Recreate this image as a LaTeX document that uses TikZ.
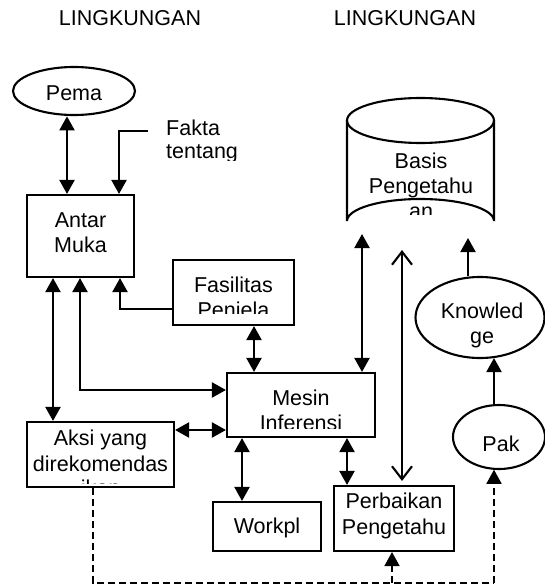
\documentclass[tikz,border=0pt]{standalone}
\usepackage{fontspec}
\setmainfont{Liberation Sans}
\usetikzlibrary{arrows.meta,calc,shapes.geometric}
\begin{document}
\begin{tikzpicture}[x=1pt,y=-1pt,
  box/.style={draw,line width=2.1pt,rectangle,inner sep=0pt},
  oval/.style={draw,line width=2.1pt,ellipse,inner sep=0pt},
  lbl/.style={font=\fontsize{21.5}{25}\selectfont,anchor=base,inner sep=0pt},
  lbll/.style={font=\fontsize{21.5}{25}\selectfont,anchor=base west,inner sep=0pt},
  ar/.style={line width=2.1pt,-{Triangle[length=14pt,width=15pt]}},
  dbl/.style={line width=2.1pt,{Triangle[length=14pt,width=15pt]}-{Triangle[length=14pt,width=15pt]}},
  openab/.style={line width=2.1pt,{Straight Barb[length=13pt,width=20pt]}-{Straight Barb[length=13pt,width=20pt]}},
  dsh/.style={line width=1.7pt,dash pattern=on 7pt off 4pt},
  dshar/.style={line width=1.7pt,dash pattern=on 7pt off 4pt,-{Triangle[length=14pt,width=15pt]}},
  cyl/.style={line width=2.1pt}]
\fill[white] (0,0) rectangle (545,586);
\useasboundingbox (0,0) rectangle (545,586);

% headings
\node[lbl] (env1) at (130,26) {LINGKUNGAN};
\node[lbl] (env2) at (405,26) {LINGKUNGAN};

% Pemakai
\node[oval,minimum width=122,minimum height=48] (pema) at (74,91) {};
\node[lbl] (pemat) at (74,100) {Pema};

% Fakta text
\begin{scope}
  \clip (160,105) rectangle (260,160);
  \node[lbll] (fakta1) at (166,135) {Fakta};
  \node[lbll] (fakta2) at (166,158) {tentang};
\end{scope}
\coordinate (fk) at (148,131);

% Antar Muka
\node[box,minimum width=107,minimum height=82] (antar) at (80.5,236) {};
\node[lbl] (antar1) at (80.5,227) {Antar};
\node[lbl] (antar2) at (80.5,252) {Muka};

% Fasilitas Penjelasan
\node[box,minimum width=121,minimum height=65] (fas) at (233.5,292.5) {};
\node[lbl] (fas1) at (233.5,292) {Fasilitas};
\begin{scope}
  \clip (175,295) rectangle (292,313);
  \node[lbl] (fas2) at (233.5,317) {Penjela};
\end{scope}

% Mesin Inferensi
\node[box,minimum width=148,minimum height=64] (mesin) at (301,405) {};
\node[lbl] (mesin1) at (301,405) {Mesin};
\begin{scope}
  \clip (229,408) rectangle (373,428);
  \node[lbl] (mesin2) at (301,430) {Inferensi};
\end{scope}

% Aksi yang direkomendasikan
\node[box,minimum width=147,minimum height=65] (aksi) at (100.5,454.5) {};
\node[lbl] (aksi1) at (100.5,445) {Aksi yang};
\node[lbl] (aksi2) at (100.5,471) {direkomendas};
\begin{scope}
  \clip (29,476) rectangle (172,483);
  \node[lbl] (aksi3) at (100.5,495.5) {ikan};
\end{scope}

% Workplace
\node[box,minimum width=108,minimum height=49] (work) at (267,526.5) {};
\node[lbl] (work1) at (267,533) {Workpl};

% Perbaikan Pengetahuan
\node[box,minimum width=120,minimum height=65] (perb) at (394,518.5) {};
\node[lbl] (perb1) at (394,508) {Perbaikan};
\node[lbl] (perb2) at (394,534) {Pengetahu};

% Basis Pengetahuan (cylinder)
\node[inner sep=0pt,minimum width=147,minimum height=145] (kb) at (420.5,170.5) {};
\draw[cyl] (347,120.5) -- (347,221) arc[start angle=180,end angle=360,x radius=73.5,y radius=22] -- (494,120.5);
\draw[cyl] (420.5,120.5) ellipse[x radius=73.5,y radius=22.5];
\node[lbl] (kb1) at (421,168) {Basis};
\node[lbl] (kb2) at (421,193) {Pengetahu};
\begin{scope}
  \clip (350,200) rectangle (491,214);
  \node[lbl] (kb3) at (421,218) {an};
\end{scope}
\coordinate (cb1) at (362,234);
\coordinate (cb2) at (402,243);
\coordinate (cb3) at (468,238);

% Knowledge engineer
\node[oval,minimum width=129,minimum height=81] (know) at (480,317.5) {};
\node[lbl] (know1) at (482,318) {Knowled};
\node[lbl] (know2) at (482,343) {ge};

% Pakar
\node[oval,minimum width=92,minimum height=64] (pak) at (499,437) {};
\node[lbl] (pak1) at (501,451) {Pak};

% connectors
\draw[dbl] ($(antar.north)+(-13.5,0)$) -- ($(pema.south)+(-7,0.3)$);
\draw[ar] (fk) -| ($(antar.north)+(38.5,0)$);
\draw[dbl] ($(antar.south)+(-27.5,0)$) -- ($(aksi.north)+(-47.5,0)$);
\draw[dbl] ($(antar.south)+(-0.5,0)$) |- ($(mesin.west)+(0,-15)$);
\draw[ar] ($(fas.west)+(0,16.5)$) -| ($(antar.south)+(39.5,0)$);
\draw[dbl] ($(fas.south)+(20.5,0)$) -- ($(mesin.north)+(-47,0)$);
\draw[dbl] (cb1) -- ($(mesin.north)+(61,0)$);
\draw[openab,shorten <=7pt,shorten >=4pt] (cb2) -- ($(perb.north)+(8,0)$);
\draw[ar] ($(know.north)+(-12,0.3)$) -- (cb3);
\draw[ar] ($(pak.north)+(-5,0.3)$) -- ($(know.south)+(14,-1)$);
\draw[dbl] ($(aksi.east)+(0,-24.5)$) -- ($(mesin.west)+(0,25)$);
\draw[dbl] ($(mesin.south)+(-59,0)$) -- ($(work.north)+(-25,0)$);
\draw[dbl] ($(mesin.south)+(46,0)$) -- ($(perb.north)+(-47,0)$);

\coordinate (dcorner) at (494,583);
\coordinate (perbin) at (392,583);
\draw[dsh] ($(aksi.south)+(-7.5,0)$) |- (dcorner);
\draw[dshar] (dcorner) -- ($(pak.south)+(-5,-0.3)$);
\draw[dshar] (perbin) -- (perb.south -| perbin);
\end{tikzpicture}
\end{document}
